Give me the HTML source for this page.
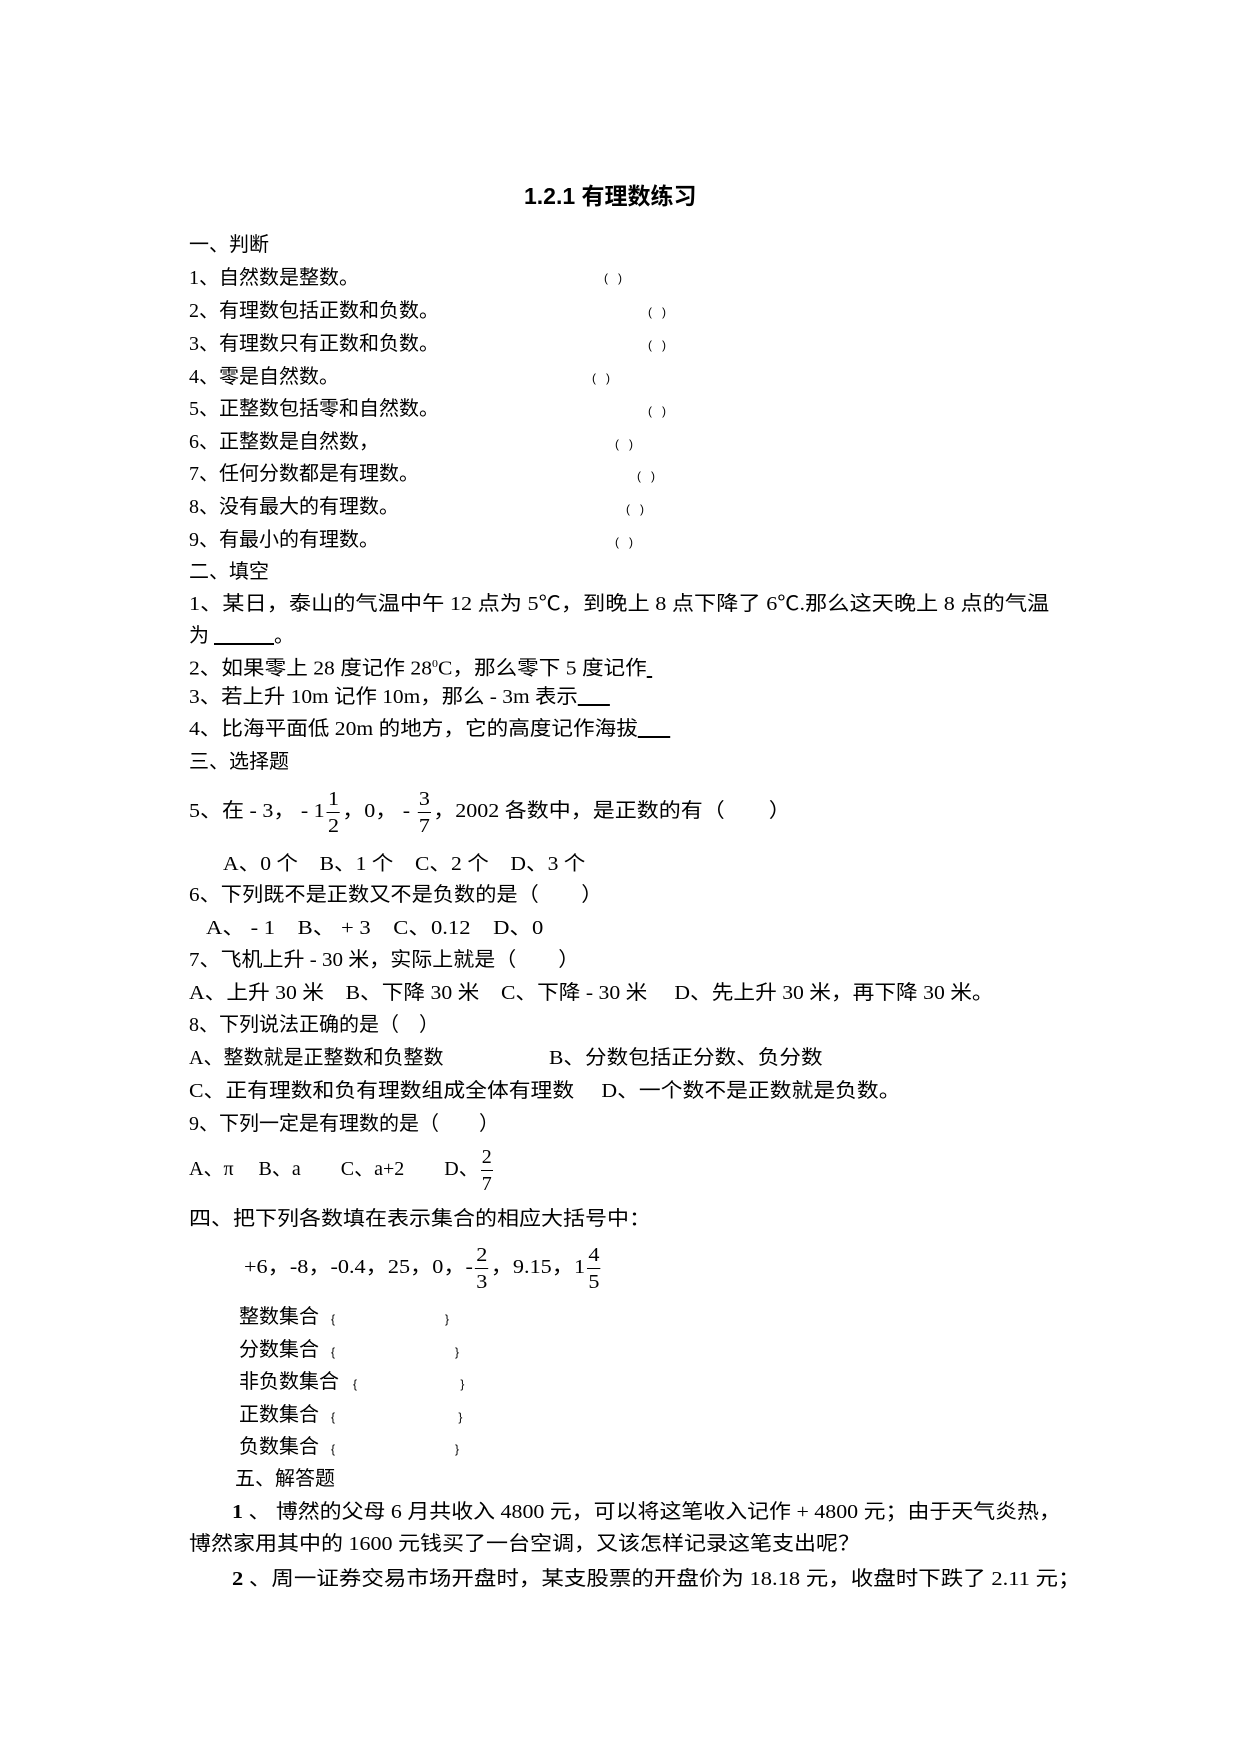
<!DOCTYPE html>
<html><head><meta charset="utf-8"><style>
body{margin:0;background:#fff;}
#p{position:relative;width:1240px;height:1754px;overflow:hidden;background:#fff;color:#000;}
.l{position:absolute;white-space:nowrap;font-family:"Liberation Serif","Noto Sans CJK SC",serif;font-size:20px;line-height:26px;transform-origin:0 50%;}
.b{position:absolute;font-family:"Liberation Sans",sans-serif;font-size:12px;line-height:14px;white-space:pre;}
.fr{display:inline-block;vertical-align:middle;text-align:center;line-height:26px;margin:0 2px;}
.fr span{display:block;padding:0 1px;}
.fr span:first-child{border-bottom:1px solid #000;}
</style></head><body><div id="p">
<div class="l" style="left:524px;top:183px;font-family:'Liberation Sans','Noto Sans CJK SC',sans-serif;font-weight:bold;font-size:23px;">1.2.1 有理数练习</div>

<div class="l" style="left:189px;top:232px">一、判断</div>
<div class="l" style="left:189px;top:265px">1、自然数是整数。</div><div class="b" style="left:604px;top:271px">(   )</div>
<div class="l" style="left:189px;top:298px">2、有理数包括正数和负数。</div><div class="b" style="left:648px;top:305px">(   )</div>
<div class="l" style="left:189px;top:331px">3、有理数只有正数和负数。</div><div class="b" style="left:648px;top:338px">(   )</div>
<div class="l" style="left:189px;top:364px">4、零是自然数。</div><div class="b" style="left:592px;top:371px">(   )</div>
<div class="l" style="left:189px;top:396px">5、正整数包括零和自然数。</div><div class="b" style="left:648px;top:404px">(   )</div>
<div class="l" style="left:189px;top:429px">6、正整数是自然数，</div><div class="b" style="left:615px;top:437px">(   )</div>
<div class="l" style="left:189px;top:461px">7、任何分数都是有理数。</div><div class="b" style="left:637px;top:469px">(   )</div>
<div class="l" style="left:189px;top:494px">8、没有最大的有理数。</div><div class="b" style="left:626px;top:502px">(   )</div>
<div class="l" style="left:189px;top:527px">9、有最小的有理数。</div><div class="b" style="left:615px;top:535px">(   )</div>
<div class="l" style="left:189px;top:559px">二、填空</div>
<div class="l" style="left:189px;top:591px;transform:scaleX(1.11)">1、某日，泰山的气温中午 12 点为 5℃，到晚上 8 点下降了 6℃.那么这天晚上 8 点的气温</div>
<div class="l" style="left:189px;top:623px">为 <u>&nbsp;&nbsp;&nbsp;&nbsp;&nbsp;&nbsp;&nbsp;&nbsp;&nbsp;&nbsp;&nbsp;&nbsp;</u>。</div>
<div class="l" style="left:189px;top:651px;transform:scaleX(1.08)">2、如果零上 28 度记作 28<sup style="font-size:11px">0</sup>C，那么零下 5 度记作<u>&nbsp;</u></div>
<div class="l" style="left:189px;top:684px;transform:scaleX(1.07)">3、若上升 10m 记作 10m，那么 - 3m 表示<u>&nbsp;&nbsp;&nbsp;&nbsp;&nbsp;&nbsp;</u></div>
<div class="l" style="left:189px;top:716px;transform:scaleX(1.08)">4、比海平面低 20m 的地方，它的高度记作海拔<u>&nbsp;&nbsp;&nbsp;&nbsp;&nbsp;&nbsp;</u></div>
<div class="l" style="left:189px;top:749px">三、选择题</div>
<div class="l" style="left:189px;top:786px;transform:scaleX(1.1)">5、在 - 3， - 1<span class="fr"><span>1</span><span>2</span></span>，0， - <span class="fr"><span>3</span><span>7</span></span>，2002 各数中，是正数的有（　　）</div>
<div class="l" style="left:223px;top:851px;transform:scaleX(1.08)">A、0 个　B、1 个　C、2 个　D、3 个</div>
<div class="l" style="left:189px;top:882px;transform:scaleX(1.06)">6、下列既不是正数又不是负数的是（　　）</div>
<div class="l" style="left:206px;top:915px;transform:scaleX(1.13)">A、 - 1　B、 + 3　C、0.12　D、0</div>
<div class="l" style="left:189px;top:947px;transform:scaleX(1.05)">7、飞机上升 - 30 米，实际上就是（　　）</div>
<div class="l" style="left:189px;top:980px;transform:scaleX(1.084)">A、上升 30 米　B、下降 30 米　C、下降 - 30 米　 D、先上升 30 米，再下降 30 米。</div>
<div class="l" style="left:189px;top:1012px">8、下列说法正确的是（　）</div>
<div class="l" style="left:189px;top:1045px">A、整数就是正整数和负整数</div>
<div class="l" style="left:549px;top:1045px;transform:scaleX(1.08)">B、分数包括正分数、负分数</div>
<div class="l" style="left:189px;top:1078px;transform:scaleX(1.09)">C、正有理数和负有理数组成全体有理数　 D、一个数不是正数就是负数。</div>
<div class="l" style="left:189px;top:1111px">9、下列一定是有理数的是（　　）</div>
<div class="l" style="left:189px;top:1144px">A、π　 B、a　　C、a+2　　D、<span class="fr"><span>2</span><span>7</span></span></div>
<div class="l" style="left:189px;top:1206px;transform:scaleX(1.1)">四、把下列各数填在表示集合的相应大括号中：</div>
<div class="l" style="left:244px;top:1242px;transform:scaleX(1.11)">+6，-8，-0.4，25，0，-<span class="fr"><span>2</span><span>3</span></span>，9.15，1<span class="fr"><span>4</span><span>5</span></span></div>
<div class="l" style="left:239px;top:1304px">整数集合</div><div class="b" style="left:331px;top:1312px">{                                 }</div>
<div class="l" style="left:239px;top:1337px">分数集合</div><div class="b" style="left:331px;top:1345px">{                                    }</div>
<div class="l" style="left:239px;top:1369px">非负数集合</div><div class="b" style="left:353px;top:1377px">{                               }</div>
<div class="l" style="left:239px;top:1402px">正数集合</div><div class="b" style="left:331px;top:1410px">{                                     }</div>
<div class="l" style="left:239px;top:1434px">负数集合</div><div class="b" style="left:331px;top:1442px">{                                    }</div>
<div class="l" style="left:235px;top:1466px">五、解答题</div>
<div class="l" style="left:232px;top:1499px;transform:scaleX(1.096)"><b>1</b> 、 博然的父母 6 月共收入 4800 元，可以将这笔收入记作 + 4800 元；由于天气炎热，</div>
<div class="l" style="left:189px;top:1531px;transform:scaleX(1.1)">博然家用其中的 1600 元钱买了一台空调，又该怎样记录这笔支出呢？</div>
<div class="l" style="left:232px;top:1566px;transform:scaleX(1.125)"><b>2</b> 、周一证券交易市场开盘时，某支股票的开盘价为 18.18 元，收盘时下跌了 2.11 元；</div>
</div></body></html>
